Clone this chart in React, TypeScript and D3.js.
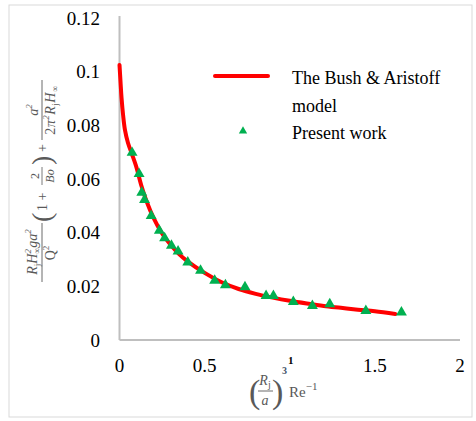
import React from 'react';
import * as d3 from 'd3';

// Present work (triangles)
const pointX = [0.074, 0.115, 0.131, 0.147, 0.186, 0.234, 0.265, 0.305, 0.344, 0.401, 0.476, 0.559, 0.622, 0.737, 0.861, 0.904, 1.021, 1.133, 1.235, 1.447, 1.656];
const pointY = [0.0698, 0.0619, 0.0549, 0.0522, 0.0463, 0.0408, 0.038, 0.0352, 0.033, 0.0289, 0.0259, 0.0221, 0.0205, 0.0197, 0.0165, 0.0165, 0.0142, 0.0127, 0.0134, 0.0109, 0.0103];

// The Bush & Aristoff model (red line)
const curveX = [0, 0.006, 0.012, 0.021, 0.032, 0.05, 0.073, 0.097, 0.13, 0.16, 0.2, 0.25, 0.3, 0.35, 0.4, 0.5, 0.6, 0.7, 0.8, 0.9, 1.0, 1.1, 1.2, 1.3, 1.4, 1.5, 1.62];
const curveY = [0.1025, 0.0962, 0.0902, 0.0839, 0.0783, 0.0734, 0.0693, 0.0649, 0.0572, 0.0515, 0.0455, 0.0397, 0.0355, 0.032, 0.0293, 0.025, 0.0215, 0.019, 0.0172, 0.0158, 0.0146, 0.0136, 0.0127, 0.012, 0.0113, 0.0107, 0.0097];

const xTicks = [0, 0.5, 1, 1.5, 2];
const yTicks = [0, 0.02, 0.04, 0.06, 0.08, 0.1, 0.12];
const yTickLabels = ['0', '0.02', '0.04', '0.06', '0.08', '0.1', '0.12'];

const serif = '"Liberation Serif", "Times New Roman", serif';
const axisGray = '#bfbfbf';
const labelGray = '#595959';
const green = '#00b050';

export default function App() {
  const x = d3.scaleLinear().domain([0, 2]).range([119.5, 460]);
  const y = d3.scaleLinear().domain([0, 0.12]).range([340, 18]);

  const line = d3.line<number>()
    .x((_, i) => x(curveX[i]))
    .y((d) => y(d))
    .curve(d3.curveCatmullRom.alpha(0.5));

  const tri = d3.symbol().type(d3.symbolTriangle).size(52)();
  const triSmall = d3.symbol().type(d3.symbolTriangle).size(30)();

  return (
    <svg width={476} height={421} style={{ position: 'absolute', left: 0, top: 0, background: '#fff' }}>
      <rect x={9} y={5} width={463} height={412} fill="#fff" stroke="#d9d9d9" strokeWidth={1} />

      {/* axes */}
      <line x1={x(0)} x2={x(0)} y1={y(0.12) - 2} y2={y(0)} stroke={axisGray} strokeWidth={2} />
      <line x1={x(0)} x2={x(2)} y1={y(0)} y2={y(0)} stroke={axisGray} strokeWidth={2} />

      {/* y tick labels */}
      {yTicks.map((t, i) => (
        <text key={t} x={100} y={y(t)} dy="0.35em" textAnchor="end" fontFamily={serif} fontSize={19} fill="#000">
          {yTickLabels[i]}
        </text>
      ))}

      {/* x tick labels */}
      {xTicks.map((t) =>
        t === 1 ? (
          <text key={t} x={x(t) + 1} y={364} textAnchor="middle" fontFamily={serif} fontSize={11} fontWeight="bold" fill="#000">
            1
          </text>
        ) : (
          <text key={t} x={x(t)} y={372} textAnchor="middle" fontFamily={serif} fontSize={19} fill="#000">
            {String(t)}
          </text>
        )
      )}

      {/* model curve */}
      <path d={line(curveY) ?? ''} fill="none" stroke="#ff0000" strokeWidth={4} strokeLinecap="round" strokeLinejoin="round" />

      {/* present work */}
      {pointX.map((px, i) => (
        <path key={i} d={tri ?? ''} transform={`translate(${x(px)},${y(pointY[i])})`} fill={green} />
      ))}

      {/* legend */}
      <line x1={215} x2={268} y1={76} y2={76} stroke="#ff0000" strokeWidth={4} strokeLinecap="round" />
      <text x={292} y={84} fontFamily={serif} fontSize={18} fill="#000">The Bush &amp; Aristoff</text>
      <text x={292} y={112} fontFamily={serif} fontSize={18} fill="#000">model</text>
      <path d={triSmall ?? ''} transform="translate(243,131)" fill={green} />
      <text x={292} y={139} fontFamily={serif} fontSize={18} fill="#000">Present work</text>

      {/* x axis title: (Rj/a)^3 Re^-1 */}
      <g fontFamily={serif} fill={labelGray}>
        <text x={249} y={403} fontSize={34} fontWeight={200}>(</text>
        <text x={265} y={385} fontSize={14} fontStyle="italic" textAnchor="middle">
          R<tspan fontSize={10} dy={3} fontStyle="normal">j</tspan>
        </text>
        <line x1={258} x2={273} y1={391} y2={391} stroke={labelGray} strokeWidth={0.9} />
        <text x={265} y={405} fontSize={14} fontStyle="italic" textAnchor="middle">a</text>
        <text x={272} y={403} fontSize={34} fontWeight={200}>)</text>
        <text x={282} y={374} fontSize={10} fontWeight="bold" fill="#44546a">3</text>
        <text x={289} y={397} fontSize={15}>
          Re<tspan fontSize={11} dy={-7}>−1</tspan>
        </text>
      </g>

      {/* y axis title */}
      <g transform="translate(42,180) rotate(-90)" fontFamily={serif} fill={labelGray}>
        {/* first fraction */}
        <text x={-72} y={-5} fontSize={14} fontStyle="italic" textAnchor="middle">
          R<tspan fontSize={9} dy={3} fontStyle="normal">j</tspan>
          <tspan dy={-3}>H</tspan>
          <tspan fontSize={9} dy={-6}>2</tspan>
          <tspan fontSize={9} dx={-5} dy={9}>∞</tspan>
          <tspan dy={-3}>ga</tspan>
          <tspan fontSize={9} dy={-6}>2</tspan>
        </text>
        <line x1={-102} x2={-43} y1={0} y2={0} stroke={labelGray} strokeWidth={0.9} />
        <text x={-73} y={13} fontSize={14} textAnchor="middle">
          Q<tspan fontSize={9} dy={-6}>2</tspan>
        </text>
        {/* (1 + 2/Bo) */}
        <text x={-42} y={9} fontSize={28} fontWeight={200}>(</text>
        <text x={-31} y={5} fontSize={14}>1 +</text>
        <text x={4} y={-3} fontSize={12} textAnchor="middle">2</text>
        <line x1={-5} x2={13} y1={0} y2={0} stroke={labelGray} strokeWidth={0.8} />
        <text x={4} y={12} fontSize={12} fontStyle="italic" textAnchor="middle">Bo</text>
        <text x={15} y={9} fontSize={28} fontWeight={200}>)</text>
        <text x={28} y={5} fontSize={14}>+</text>
        {/* second fraction */}
        <text x={70} y={-4} fontSize={14} fontStyle="italic" textAnchor="middle">
          a<tspan fontSize={9} dy={-6}>2</tspan>
        </text>
        <line x1={40} x2={100} y1={0} y2={0} stroke={labelGray} strokeWidth={0.9} />
        <text x={70} y={13} fontSize={14} fontStyle="italic" textAnchor="middle" letterSpacing={0.5}>
          <tspan fontStyle="normal">2</tspan>π<tspan fontSize={9} dy={-6}>2</tspan>
          <tspan dy={6}>R</tspan>
          <tspan fontSize={9} dy={3} fontStyle="normal">j</tspan>
          <tspan dy={-3}>H</tspan>
          <tspan fontSize={9} dy={3}>∞</tspan>
        </text>
      </g>
    </svg>
  );
}
